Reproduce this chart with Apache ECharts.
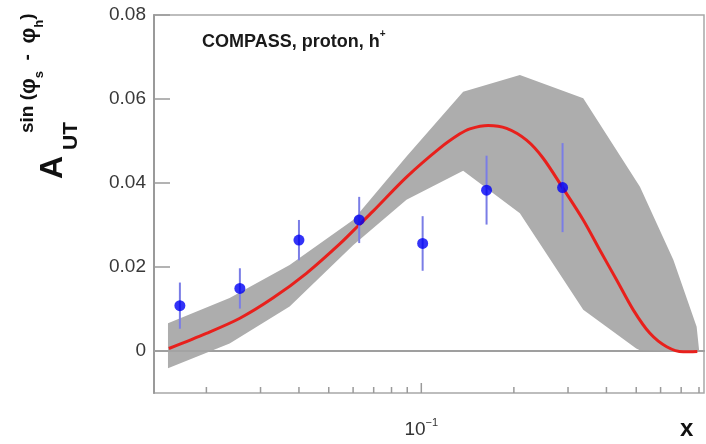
<!DOCTYPE html>
<html>
<head>
<meta charset="utf-8">
<script src="https://cdn.jsdelivr.net/npm/echarts@6/dist/echarts.min.js"></script>
<style>
html,body{margin:0;padding:0;background:#fff;}
#chart{width:706px;height:444px;}
</style>
</head>
<body>
<div id="chart"></div>
<script>
// ---- data ----
const ptX = [0.0164, 0.0257, 0.0400, 0.0628, 0.1010, 0.1630, 0.2880];
const ptY = [0.0108, 0.0149, 0.0264, 0.0312, 0.0256, 0.0383, 0.0389];
const ptErr = [0.0055, 0.0048, 0.0048, 0.0055, 0.0065, 0.0082, 0.0106];

const curveX = [0.0151, 0.0200, 0.0257, 0.0329, 0.0423, 0.0543, 0.0627, 0.0697, 0.0895, 0.1149, 0.1335, 0.1438, 0.1650, 0.1894, 0.2199, 0.2490, 0.2880, 0.3362, 0.3810, 0.4318, 0.4889, 0.5540, 0.6280, 0.7110, 0.7900];
const curveY = [0.0006, 0.0042, 0.0078, 0.0126, 0.0185, 0.0255, 0.0300, 0.0333, 0.0414, 0.0483, 0.0517, 0.0529, 0.0537, 0.0530, 0.0502, 0.0459, 0.0389, 0.0312, 0.0240, 0.0169, 0.0098, 0.0042, 0.0010, -0.0002, -0.0001];

const bandX  = [0.0150, 0.0238, 0.0373, 0.0600, 0.0895, 0.1368, 0.2092, 0.3362, 0.5000, 0.5140, 0.6600, 0.7860, 0.8000];
const bandHi = [0.0066, 0.0126, 0.0205, 0.0312, 0.0463, 0.0617, 0.0657, 0.0602, 0.0405, 0.0391, 0.0217, 0.0058, 0.0004];
const bandLo = [-0.0041, 0.0018, 0.0106, 0.0252, 0.0360, 0.0429, 0.0328, 0.0098, 0.0006, 0.0002, -0.0002, -0.0002, -0.0002];

const yTicks = [0, 0.02, 0.04, 0.06, 0.08];
const xMinorTicks = [0.02, 0.03, 0.04, 0.05, 0.06, 0.07, 0.08, 0.09, 0.2, 0.3, 0.4, 0.5, 0.6, 0.7, 0.8];
const xMajorTicks = [0.1];
const xMin = 0.01351, xMax = 0.8305, yMin = -0.01, yMax = 0.08;

// ---- chart ----
const chart = echarts.init(document.getElementById('chart'));
const FONT = '"Liberation Sans", Arial, Helvetica, sans-serif';
const AXIS_COLOR = '#9a9a9a';

const errData = ptX.map((x, i) => [x, ptY[i] - ptErr[i], ptY[i] + ptErr[i]]);
const tickData = xMinorTicks.map(v => [v, 0]).concat(xMajorTicks.map(v => [v, 1]));

const option = {
  animation: false,
  backgroundColor: '#ffffff',
  grid: {
    left: 154, top: 15, right: 2, bottom: 51,
    show: true, borderColor: '#a8a8a8', borderWidth: 1.5,
    outerBoundsMode: 'none', containLabel: false
  },
  xAxis: {
    type: 'log', logBase: 10, min: xMin, max: xMax,
    axisLine: { show: true, lineStyle: { color: AXIS_COLOR, width: 2 } },
    axisTick: { show: false },
    splitLine: { show: false },
    minorTick: { show: false },
    axisLabel: {
      margin: 24,
      formatter: function (v) {
        return Math.abs(Math.log10(v) + 1) < 1e-6 ? '{b|10}{s|−1}' : '';
      },
      rich: {
        b: { fontFamily: FONT, fontSize: 19, color: '#333', lineHeight: 22, verticalAlign: 'bottom' },
        s: { fontFamily: FONT, fontSize: 11, color: '#333', lineHeight: 22, verticalAlign: 'top' }
      }
    }
  },
  yAxis: {
    type: 'value', min: yMin, max: yMax,
    axisLine: { show: true, lineStyle: { color: AXIS_COLOR, width: 2 } },
    axisTick: { show: true, inside: true, length: 16, customValues: yTicks, lineStyle: { color: AXIS_COLOR, width: 1.5 } },
    axisLabel: { customValues: yTicks, margin: 8, fontFamily: FONT, fontSize: 19, color: '#383838',
      formatter: v => (Math.abs(v) < 1e-9 ? '0' : v.toFixed(2)) },
    splitLine: { show: false }
  },
  graphic: [
    { type: 'text', left: 202, top: 29, z: 100,
      style: { text: '{m|COMPASS, proton, h}{s|+}', rich: {
        m: { fontFamily: FONT, fontSize: 18, fontWeight: 'bold', fill: '#1a1a1a', lineHeight: 22, verticalAlign: 'bottom' },
        s: { fontFamily: FONT, fontSize: 10, fontWeight: 'bold', fill: '#1a1a1a', lineHeight: 22, verticalAlign: 'top' }
      } } },
    { type: 'text', x: 680, y: 417, z: 100,
      style: { text: 'x', fontFamily: FONT, fontSize: 24, fontWeight: 'bold', fill: '#111' } },
    // Y axis title: A_UT^{sin(phi_s - phi_h)}
    { type: 'text', x: 53, y: 179, rotation: Math.PI / 2, z: 100,
      style: { text: 'A', fontFamily: FONT, fontSize: 32, fontWeight: 'bold', fill: '#111', align: 'left', verticalAlign: 'middle' } },
    { type: 'text', x: 71, y: 150, rotation: Math.PI / 2, z: 100,
      style: { text: 'UT', fontFamily: FONT, fontSize: 21, fontWeight: 'bold', fill: '#111', align: 'left', verticalAlign: 'middle' } },
    { type: 'text', x: 32, y: 133, rotation: Math.PI / 2, z: 100,
      style: { text: '{a|sin (}{p|φ}{b|s}{a|  -  }{p|φ}{b|h}{a|)}', align: 'left', verticalAlign: 'middle', rich: {
        a: { fontFamily: FONT, fontSize: 19, fontWeight: 'bold', fill: '#111', lineHeight: 28, verticalAlign: 'top' },
        p: { fontFamily: FONT, fontSize: 22, fontWeight: 'bold', fill: '#111', lineHeight: 28, verticalAlign: 'top' },
        b: { fontFamily: FONT, fontSize: 13, fontWeight: 'bold', fill: '#111', lineHeight: 28, verticalAlign: 'bottom' }
      } } }
  ],
  series: [
    { // uncertainty band
      type: 'custom', z: 1, silent: true,
      data: [[bandX[0], bandLo[0]]],
      renderItem: function (params, api) {
        const pts = [];
        for (let i = 0; i < bandX.length; i++) pts.push(api.coord([bandX[i], bandHi[i]]));
        for (let i = bandX.length - 1; i >= 0; i--) pts.push(api.coord([bandX[i], bandLo[i]]));
        return { type: 'polygon', shape: { points: pts }, style: { fill: '#adadad' } };
      }
    },
    { // zero line
      type: 'line', z: 2, silent: true, symbol: 'none',
      data: [[xMin, 0], [xMax, 0]],
      lineStyle: { color: '#a0a0a0', width: 1.5 }
    },
    { // theory curve
      type: 'line', z: 3, silent: true, symbol: 'none', smooth: 0.3,
      data: curveX.map((x, i) => [x, curveY[i]]),
      lineStyle: { color: '#e8201c', width: 3 }
    },
    { // error bars
      type: 'custom', z: 4, silent: true,
      data: errData,
      encode: { x: 0, y: [1, 2] },
      renderItem: function (params, api) {
        const a = api.coord([api.value(0), api.value(1)]);
        const b = api.coord([api.value(0), api.value(2)]);
        return { type: 'line', shape: { x1: a[0], y1: a[1], x2: b[0], y2: b[1] },
          style: { stroke: '#7a7de6', lineWidth: 2 } };
      }
    },
    { // data points
      type: 'scatter', z: 5, silent: true, symbol: 'circle', symbolSize: 11,
      data: ptX.map((x, i) => [x, ptY[i]]),
      itemStyle: { color: '#0000f5' }
    },
    { // x axis ticks (log minor + major)
      type: 'custom', z: 6, silent: true,
      data: tickData,
      encode: { x: 0 },
      renderItem: function (params, api) {
        const p = api.coord([api.value(0), yMin]);
        const len = api.value(1) ? 10 : 6;
        return { type: 'line', shape: { x1: p[0], y1: p[1], x2: p[0], y2: p[1] - len },
          style: { stroke: AXIS_COLOR, lineWidth: 1.5 } };
      }
    }
  ]
};
chart.setOption(option);
</script>
</body>
</html>
